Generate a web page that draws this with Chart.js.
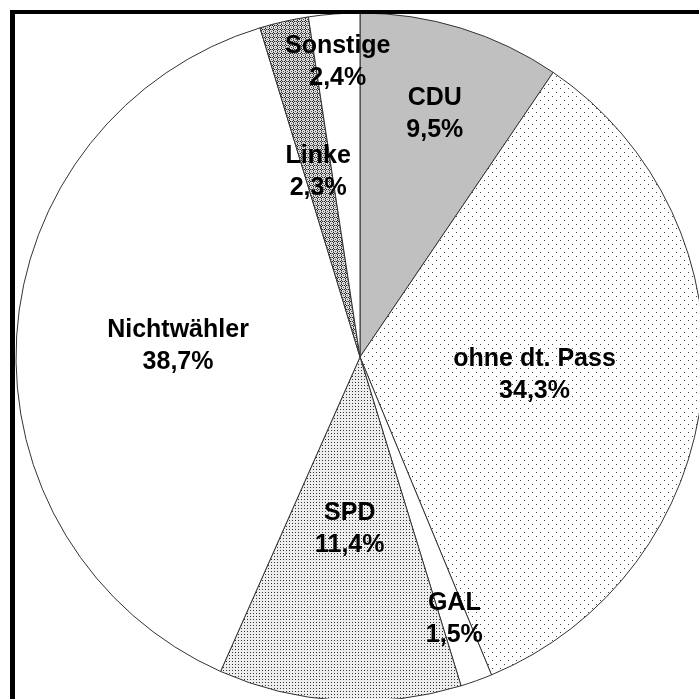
<!DOCTYPE html>
<html>
<head>
<meta charset="utf-8">
<script src="https://cdn.jsdelivr.net/npm/chart.js@4"></script>
<style>
  html, body { margin: 0; padding: 0; background: #fff; }
  #wrap { width: 699px; height: 699px; overflow: hidden; position: relative; }
  #pie { position: absolute; left: 0; top: 0; }
</style>
</head>
<body>
<div id="wrap"><canvas id="pie" width="720" height="714"></canvas></div>
<script>
// Daten der Grafik
var parties = ['CDU', 'ohne dt. Pass', 'GAL', 'SPD', 'Nichtwähler', 'Linke', 'Sonstige'];
var shares = [9.5, 34.3, 1.5, 11.4, 38.7, 2.3, 2.4];

// Abstand der Beschriftung vom Mittelpunkt (Anteil am Radius)
var labelRadius = [0.74, 0.51, 0.81, 0.5, 0.53, 0.55, 0.86];

// Muster für die Flächen erzeugen
function makePattern(size, bg, dots) {
    var c = document.createElement('canvas');
    c.width = size;
    c.height = size;
    var g = c.getContext('2d');
    g.fillStyle = bg;
    g.fillRect(0, 0, size, size);
    dots.forEach(function (d) {
        g.fillStyle = d[2];
        g.fillRect(d[0], d[1], 1, 1);
    });
    return g.createPattern(c, 'repeat');
}

var sparseDots = makePattern(8, '#ffffff', [[0, 0, '#444'], [4, 4, '#444']]);
var denseDots = makePattern(3, '#eeeeee', [[1, 1, '#333']]);
var hatch = makePattern(4, '#e0e0e0', [[1, 0, '#222'], [0, 1, '#222'], [2, 1, '#222'], [1, 2, '#222'], [3, 3, '#555'], [3, 1, '#999'], [1, 3, '#999']]);

var fills = ['#c0c0c0', sparseDots, '#ffffff', denseDots, '#ffffff', hatch, '#ffffff'];

// Beschriftungen in die Segmente schreiben
var sliceLabels = {
    id: 'sliceLabels',
    afterDatasetsDraw: function (chart) {
        var ctx = chart.ctx;
        var meta = chart.getDatasetMeta(0);
        ctx.save();
        ctx.fillStyle = '#000';
        ctx.font = 'bold 25px "Liberation Sans", Arial, sans-serif';
        ctx.textAlign = 'center';
        ctx.textBaseline = 'middle';
        meta.data.forEach(function (arc, i) {
            var mid = (arc.startAngle + arc.endAngle) / 2;
            var r = arc.outerRadius * labelRadius[i];
            var x = arc.x + Math.cos(mid) * r;
            var y = arc.y + Math.sin(mid) * r;
            ctx.fillText(parties[i], x, y - 16);
            ctx.fillText(shares[i].toFixed(1).replace('.', ',') + '%', x, y + 16);
        });
        ctx.restore();
    }
};

// Schwarzer Rahmen
var frame = {
    id: 'frame',
    afterDraw: function (chart) {
        var ctx = chart.ctx;
        ctx.save();
        ctx.fillStyle = '#000';
        ctx.fillRect(10, 10, 5, chart.height);
        ctx.fillRect(10, 10, chart.width, 4);
        ctx.restore();
    }
};

new Chart(document.getElementById('pie').getContext('2d'), {
    type: 'pie',
    data: {
        labels: parties,
        datasets: [{
            data: shares,
            backgroundColor: fills,
            borderColor: '#333333',
            borderWidth: 1,
            radius: 344
        }]
    },
    options: {
        responsive: false,
        animation: false,
        layout: { padding: 0 },
        plugins: {
            legend: { display: false },
            tooltip: { enabled: false }
        }
    },
    plugins: [sliceLabels, frame]
});
</script>
</body>
</html>
